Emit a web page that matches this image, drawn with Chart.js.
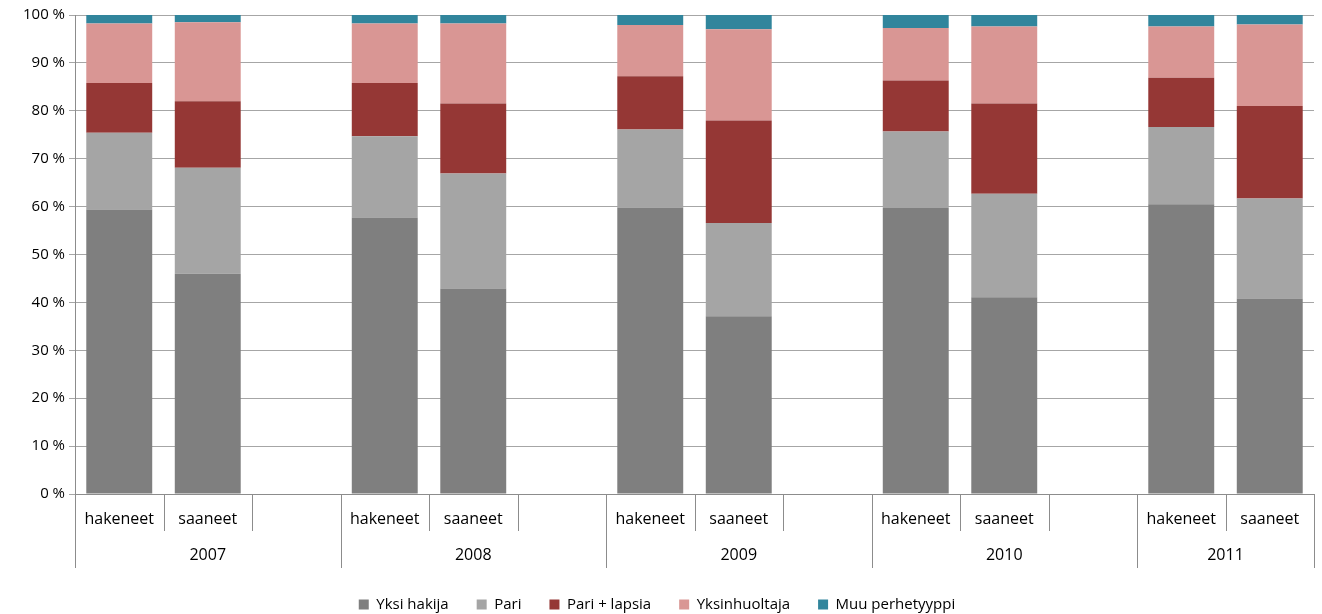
<!DOCTYPE html>
<html lang="fi">
<head>
<meta charset="UTF-8">
<title>Hakijat perhetyypeittäin</title>
<script src="https://cdn.jsdelivr.net/npm/chart.js"></script>
<style>
    body { margin: 0; background: #fff; }
    #wrap { width: 1322px; height: 614px; }
</style>
</head>
<body>
<div id="wrap"><canvas id="chartPerhe"></canvas></div>
<script>
// vuodet ja ryhmät
const vuodet = ['2007', '2008', '2009', '2010', '2011'];
const ryhmat = ['hakeneet', 'saaneet'];

// osuudet (%), järjestys: 2007 hak, 2007 saa, 2008 hak, 2008 saa, ...
const yksiHakija    = [59.4, 46.0, 57.7, 42.9, 59.8, 37.1, 59.7, 41.1, 60.5, 40.8];
const pari          = [16.0, 22.1, 17.0, 24.0, 16.3, 19.5, 16.0, 21.6, 16.1, 20.9];
const pariLapsia    = [10.4, 13.9, 11.1, 14.6, 11.1, 21.4, 10.6, 18.8, 10.3, 19.3];
const yksinhuoltaja = [12.4, 16.5, 12.4, 16.7, 10.7, 19.0, 11.0, 16.1, 10.7, 17.0];
const muuPerhe      = [ 1.8,  1.5,  1.8,  1.8,  2.1,  3.0,  2.7,  2.4,  2.4,  2.0];

const yTicks = [0, 10, 20, 30, 40, 50, 60, 70, 80, 90, 100];

// jokaisen vuoden perään tyhjä paikka (paitsi viimeisen)
const paikat = [];
vuodet.forEach((v, i) => {
    ryhmat.forEach(r => paikat.push({ vuosi: v, ryhma: r }));
    if (i < vuodet.length - 1) paikat.push({ vuosi: v, ryhma: '' });
});

function levita(arvot) {
    let k = 0;
    return paikat.map(p => p.ryhma ? arvot[k++] : null);
}

const sarjat = [
    { label: 'Yksi hakija', data: yksiHakija, color: '#7f7f7f' },
    { label: 'Pari', data: pari, color: '#a5a5a5' },
    { label: 'Pari + lapsia', data: pariLapsia, color: '#953735' },
    { label: 'Yksinhuoltaja', data: yksinhuoltaja, color: '#d99694' },
    { label: 'Muu perhetyyppi', data: muuPerhe, color: '#31859c' }
];

const fontti = "'Open Sans', 'Liberation Sans', sans-serif";

// kaksitasoinen x-akseli: ryhmät, vuodet ja erotinviivat
const akseliPlugin = {
    id: 'akseli',
    afterDraw(chart) {
        const ctx = chart.ctx;
        const x = chart.scales.x;
        const pohja = chart.chartArea.bottom;
        const n = paikat.length;
        const px = i => x.getPixelForValue(i);
        const puoli = (px(1) - px(0)) / 2;

        ctx.save();
        ctx.strokeStyle = '#8c8c8c';
        ctx.lineWidth = 1;
        ctx.fillStyle = '#000';
        ctx.textAlign = 'center';
        ctx.textBaseline = 'middle';

        let alku = 0;
        for (let i = 0; i <= n; i++) {
            const raja = i < n ? px(i) - puoli : px(n - 1) + puoli;
            const vuosiVaihtuu = i === 0 || i === n || paikat[i].vuosi !== paikat[i - 1].vuosi;
            const xx = Math.round(raja) + 0.5;
            ctx.beginPath();
            ctx.moveTo(xx, pohja);
            ctx.lineTo(xx, pohja + (vuosiVaihtuu ? 74 : 37));
            ctx.stroke();

            if (vuosiVaihtuu && i > 0) {
                const a = px(alku) - puoli;
                ctx.font = '16px ' + fontti;
                ctx.fillText(paikat[alku].vuosi, (a + raja) / 2, pohja + 61);
                alku = i;
            }
        }

        ctx.font = '16px ' + fontti;
        paikat.forEach((p, i) => {
            if (p.ryhma) ctx.fillText(p.ryhma, px(i), pohja + 25);
        });
        ctx.restore();
    }
};

new Chart(document.getElementById('chartPerhe'), {
    type: 'bar',
    data: {
        labels: paikat.map(p => p.ryhma),
        datasets: sarjat.map(s => ({
            label: s.label,
            data: levita(s.data),
            backgroundColor: s.color,
            borderWidth: 0,
            categoryPercentage: 1,
            barPercentage: 0.745
        }))
    },
    options: {
        responsive: true,
        maintainAspectRatio: false,
        animation: false,
        layout: { padding: { top: 15, right: 8, left: 0, bottom: -8 } },
        plugins: {
            tooltip: { enabled: false },
            legend: {
                position: 'bottom',
                labels: {
                    boxWidth: 10,
                    boxHeight: 10,
                    padding: 28,
                    color: '#000',
                    font: { family: fontti, size: 15 }
                }
            }
        },
        scales: {
            x: {
                stacked: true,
                grid: { display: false },
                border: { display: true, color: '#8c8c8c' },
                ticks: { display: false },
                afterFit(scale) { scale.height = 75; }
            },
            y: {
                stacked: true,
                min: 0,
                max: 100,
                afterBuildTicks(scale) { scale.ticks = yTicks.map(v => ({ value: v })); },
                grid: { color: '#a6a6a6', tickLength: 6 },
                border: { display: true, color: '#8c8c8c' },
                ticks: {
                    color: '#000',
                    padding: 4,
                    font: { family: fontti, size: 15 },
                    callback: v => v + ' %'
                },
                afterFit(scale) { scale.width = 75; }
            }
        }
    },
    plugins: [akseliPlugin]
});
</script>
</body>
</html>
